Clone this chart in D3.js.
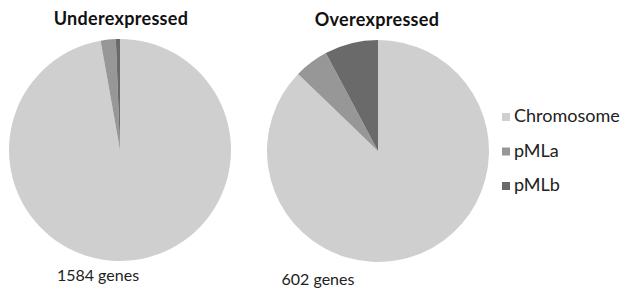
<!DOCTYPE html>
<html><head><meta charset="utf-8">
<script src="https://cdn.jsdelivr.net/npm/d3@7"></script>
<style>body{margin:0;background:#fff}svg{display:block}</style>
</head><body>
<script>
const categories = ["Chromosome", "pMLa", "pMLb"];
const underValues = [97.2, 2.2, 0.6];
const overValues = [87.2, 5.0, 7.8];
const titles = ["Underexpressed", "Overexpressed"];
const geneLabels = ["1584 genes", "602 genes"];
const colors = ["#cfcfcf", "#979797", "#6a6a6a"];

const W = 625, H = 292;
const svg = d3.select("body").append("svg").attr("width", W).attr("height", H);
const font = "Lato, 'Open Sans', sans-serif";

const color = d3.scaleOrdinal().domain(categories).range(colors);
const pie = d3.pie().sort(null).value(d => d.v);
const arc = d3.arc().innerRadius(0).outerRadius(111);

const pies = [
  {vals: underValues, cx: 120, cy: 150, title: titles[0], tx: 121, ty: 25, label: geneLabels[0], lx: 98, ly: 281},
  {vals: overValues, cx: 378, cy: 151, title: titles[1], tx: 377, ty: 26, label: geneLabels[1], lx: 318, ly: 285}
];

pies.forEach(p => {
  const data = categories.map((c, i) => ({c, v: p.vals[i]}));
  const g = svg.append("g").attr("transform", `translate(${p.cx},${p.cy})`);
  g.selectAll("path").data(pie(data)).join("path")
    .attr("d", arc).attr("fill", d => color(d.data.c));
  svg.append("text").attr("x", p.tx).attr("y", p.ty).attr("text-anchor", "middle")
    .attr("font-family", font).attr("font-weight", "bold").attr("font-size", 18)
    .attr("letter-spacing", 0.3).attr("fill", "#111").text(p.title);
  svg.append("text").attr("x", p.lx).attr("y", p.ly).attr("text-anchor", "middle")
    .attr("font-family", font).attr("font-size", 16)
    .attr("fill", "#222").text(p.label);
});

const legend = svg.append("g");
const ly = d3.scalePoint().domain(categories).range([113, 182]);
categories.forEach(c => {
  legend.append("rect").attr("x", 502).attr("y", ly(c)).attr("width", 8).attr("height", 8)
    .attr("fill", color(c));
  legend.append("text").attr("x", 514).attr("y", ly(c) + 9)
    .attr("font-family", font).attr("font-size", 18).attr("fill", "#222").text(c);
});
</script>
</body></html>
